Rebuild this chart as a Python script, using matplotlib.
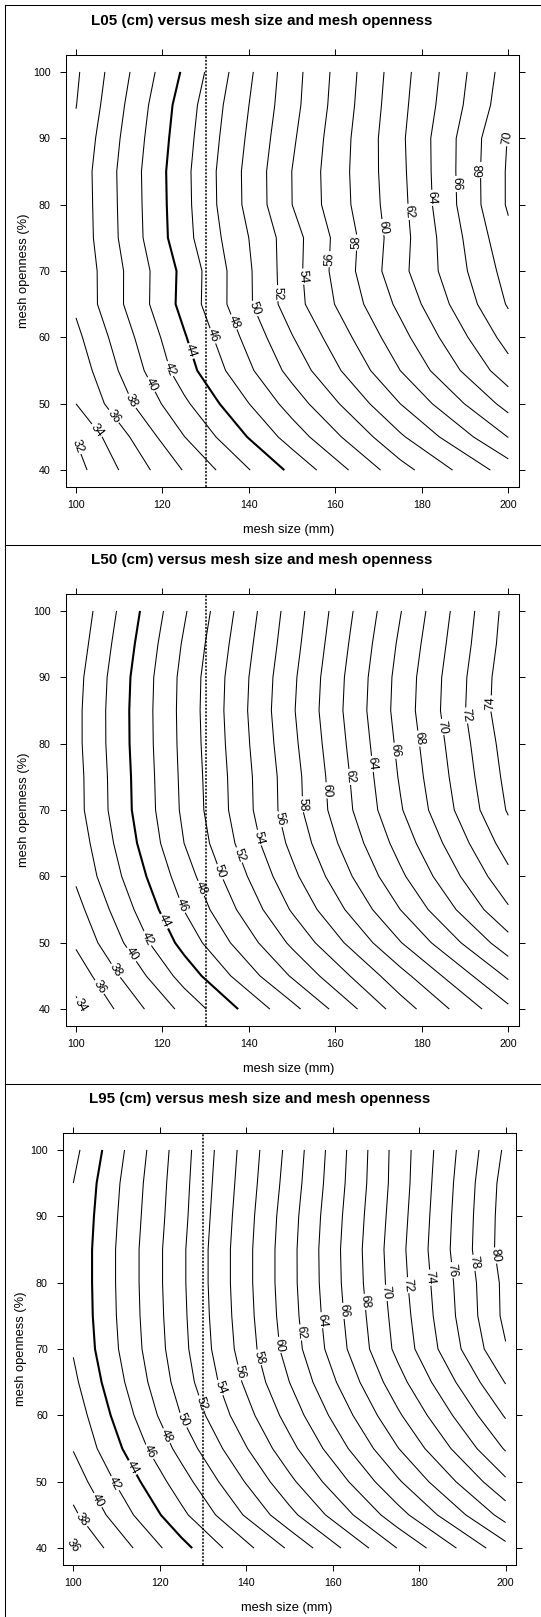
import numpy as np
import matplotlib
matplotlib.use("Agg")
import matplotlib.pyplot as plt
from matplotlib.lines import Line2D

plt.rcParams['font.family'] = ['Liberation Sans', 'DejaVu Sans']

# ---------------- data ----------------
mesh_size = [100, 125, 150, 175, 200]                      # mm (grid columns)
mesh_openness = [40, 45, 50, 55, 60, 65, 70, 75, 80, 85, 90, 95, 100]  # % (grid rows)

# length (cm) at each (openness row, mesh-size column)
L05 = [
    [31.3, 38.12, 44.46, 51.23, 56.95],
    [32.1, 39.95, 46.9, 53.7, 60.05],
    [34.0, 41.6, 48.9, 56.0, 62.75],
    [34.75, 43.07, 50.7, 58.0, 65.2],
    [35.5, 43.8, 51.9, 59.3, 66.8],
    [36.35, 44.65, 53.1, 60.5, 68.2],
    [36.4, 44.57, 53.2, 61.4, 68.8],
    [36.6, 45.3, 53.15, 61.2, 69.5],
    [36.65, 45.4, 54.0, 61.36, 70.25],
    [36.7, 45.45, 54.03, 61.5, 70.25],
    [36.4, 45.22, 53.7, 61.6, 70.1],
    [35.95, 44.96, 53.35, 61.4, 69.3],
    [35.7, 44.3, 53.2, 61.2, 68.95],
]
L50 = [
    [33.5, 40.6, 47.4, 55.0, 61.6],
    [34.8, 42.8, 50.2, 57.3, 64.3],
    [36.3, 44.7, 52.4, 59.9, 67.2],
    [37.3, 46.05, 54.2, 62.0, 69.75],
    [38.3, 47.05, 55.5, 63.6, 71.5],
    [38.8, 48.0, 56.5, 64.8, 72.95],
    [39.3, 48.4, 57.15, 65.8, 74.2],
    [39.33, 48.5, 57.2, 66.2, 74.6],
    [39.48, 48.6, 57.5, 66.5, 74.95],
    [39.48, 48.65, 57.75, 66.8, 75.4],
    [39.33, 48.6, 57.6, 66.7, 75.3],
    [38.93, 48.25, 57.25, 66.35, 74.95],
    [38.55, 47.75, 56.95, 65.9, 74.75],
]
L95 = [
    [35.9, 43.3, 50.3, 58.05, 65.3],
    [37.6, 45.5, 53.4, 61.2, 68.8],
    [38.9, 47.1, 55.5, 63.7, 71.65],
    [40.1, 48.7, 57.35, 65.9, 74.2],
    [40.8, 50.05, 58.8, 67.65, 76.2],
    [41.55, 50.9, 60.0, 69.2, 78.1],
    [42.15, 51.35, 60.85, 70.5, 79.85],
    [42.35, 51.5, 61.15, 70.8, 80.5],
    [42.4, 51.6, 61.3, 71.1, 80.55],
    [42.4, 51.6, 61.3, 71.25, 81.0],
    [42.25, 51.4, 61.15, 71.05, 80.95],
    [42.0, 51.26, 60.85, 70.85, 80.8],
    [41.4, 51.1, 60.6, 70.8, 80.35],
]

panel_names = ["L05", "L50", "L95"]
panel_data = [L05, L50, L95]
contour_levels = list(range(30, 86, 2))
highlight_level = 44
reference_mesh = 130
x_ticks = [100, 120, 140, 160, 180, 200]
y_ticks = [40, 50, 60, 70, 80, 90, 100]

# guide curves along which the contour labels sit (layout only)
label_guides = [
    [(100, 43.3), (127.6, 58.5), (160.1, 72.4), (183.6, 81.5), (196.5, 86.3), (201, 91.5)],
    [(100, 40.0), (102.3, 41.25), (121.6, 54), (148.8, 69.5), (175.3, 79.5), (197.4, 86.5), (201, 87.7)],
    [(99.5, 41.5), (103, 45.2), (107, 48.2), (115, 52.9), (131, 62.7), (143.8, 69.15),
     (157.9, 74.5), (173.5, 78.75), (199.5, 84.5), (201, 84.8)],
]

# ---------------- layout ----------------
W, H, DPI = 541, 1617, 100
fig = plt.figure(figsize=(W / DPI, H / DPI), dpi=DPI)
fig.patch.set_facecolor("white")


def fx(px):
    return px / W


def fy(py):
    return 1 - py / H


def seg_intersect(p1, p2, q1, q2):
    d1 = p2 - p1
    d2 = q2 - q1
    den = d1[0] * d2[1] - d1[1] * d2[0]
    if abs(den) < 1e-12:
        return None
    w = q1 - p1
    t = (w[0] * d2[1] - w[1] * d2[0]) / den
    u = (w[0] * d1[1] - w[1] * d1[0]) / den
    if 0 <= t <= 1 and 0 <= u <= 1:
        return p1 + t * d1
    return None


def label_points(cs, guide):
    g = np.array(guide, dtype=float)
    pts = []
    for segs in cs.allsegs:
        hit = None
        for seg in segs:
            seg = np.asarray(seg)
            for i in range(len(seg) - 1):
                for j in range(len(g) - 1):
                    r = seg_intersect(seg[i], seg[i + 1], g[j], g[j + 1])
                    if r is not None:
                        hit = r
                        break
                if hit is not None:
                    break
            if hit is not None:
                break
        if hit is None:
            best = None
            for seg in segs:
                seg = np.asarray(seg)
                for v in seg:
                    dmin = np.min(np.hypot((g[:, 0] - v[0]) / 100.0, (g[:, 1] - v[1]) / 60.0))
                    if best is None or dmin < best[0]:
                        best = (dmin, v)
            if best is not None:
                hit = best[1]
        if hit is not None:
            pts.append((float(hit[0]), float(hit[1])))
    return pts


PANEL_H = 539
for k, (name, data) in enumerate(zip(panel_names, panel_data)):
    oy = PANEL_H * k
    ox = -2.7 if k == 2 else 0.0
    x0, x1 = 65.6 + ox, 518.7 + ox
    y0, y1 = 55.0 + oy, 486.7 + oy
    ax = fig.add_axes([fx(x0), fy(y1), (x1 - x0) / W, (y1 - y0) / H])
    Z = np.array(data, dtype=float)
    levels = [l for l in contour_levels if Z.min() < l < Z.max()]
    lws = [1.5 if l == highlight_level else 0.75 for l in levels]
    cs = ax.contour(mesh_size, mesh_openness, Z, levels=levels, colors="black",
                    linewidths=lws, linestyles="solid")
    pts = label_points(cs, label_guides[k])
    ax.clabel(cs, manual=pts, inline=True, inline_spacing=2, fontsize=8.8, fmt="%d")
    ax.axvline(reference_mesh, color="black", lw=1.1, linestyle=(0, (1.3, 1.0)))

    ax.set_xlim(97.6, 202.4)
    ax.set_ylim(37.5, 102.55)
    ax.set_xticks(x_ticks)
    ax.set_yticks(y_ticks)
    ax.tick_params(axis="both", direction="out", length=4.3, width=0.7, colors="black",
                   top=True, right=True, labeltop=False, labelright=False, labelsize=7.7)
    ax.tick_params(axis="x", pad=5.5)
    ax.tick_params(axis="y", pad=6.6)
    for s in ax.spines.values():
        s.set_linewidth(0.75)
        s.set_color("black")

    fig.text(fx(262 + ox), fy(20.7 + oy), f"{name} (cm) versus mesh size and mesh openness",
             ha="center", va="center", fontsize=10.9, fontweight="bold")
    fig.text(fx(289 + ox), fy(530 + oy), "mesh size (mm)", ha="center", va="center", fontsize=9.3)
    fig.text(fx(24 + ox), fy(270.9 + oy), "mesh openness (%)", ha="center", va="center",
             rotation=90, fontsize=9.3)

# outer panel frames
fig.add_artist(Line2D([fx(4.5), fx(4.5)], [fy(5), 0], color="black", lw=0.75))
for yy in (5, 545, 1084):
    fig.add_artist(Line2D([fx(4.5), 1], [fy(yy), fy(yy)], color="black", lw=0.75))

fig.savefig("out.png", dpi=DPI, facecolor="white")
